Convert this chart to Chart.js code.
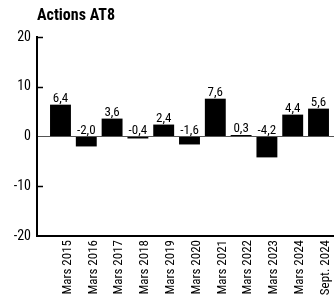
<!DOCTYPE html>
<html>
<head>
<meta charset="utf-8">
<script src="https://cdn.jsdelivr.net/npm/chart.js@4"></script>
<style>
  html, body { margin: 0; padding: 0; background: #fff; }
  #wrap { position: relative; width: 334px; height: 296px; }
  #title {
    position: absolute; left: 37px; top: 5px;
    font-family: Roboto, sans-serif;
    font-weight: bold;
    font-size: 16px;
    font-stretch: condensed;
    color: #000;
  }
</style>
</head>
<body>
<div id="wrap">
  <div id="title">Actions AT8</div>
  <canvas id="myChart" width="334" height="296"></canvas>
</div>
<script>
const categories = ['Mars 2015', 'Mars 2016', 'Mars 2017', 'Mars 2018', 'Mars 2019', 'Mars 2020',
  'Mars 2021', 'Mars 2022', 'Mars 2023', 'Mars 2024', 'Sept. 2024'];
const values = [6.4, -2.0, 3.6, -0.4, 2.4, -1.6, 7.6, 0.3, -4.2, 4.4, 5.6];
const yTicks = [-20, -10, 0, 10, 20];

// Roboto is variable here, "condensed" in the weight slot gives the narrow cut
const FONT = 'Roboto, sans-serif';

const fmt = v => v.toFixed(1).replace('.', ',');

// value labels above bars (negative ones sit above the zero line)
// + short inward tick marks on the y axis
const extras = {
  id: 'extras',
  afterDatasetsDraw(chart) {
    const ctx = chart.ctx;
    const yScale = chart.scales.y;
    const meta = chart.getDatasetMeta(0);
    ctx.save();
    ctx.font = 'condensed 13px ' + FONT;
    ctx.fillStyle = '#000';
    ctx.textAlign = 'center';
    ctx.textBaseline = 'alphabetic';
    meta.data.forEach((bar, i) => {
      const v = values[i];
      const top = yScale.getPixelForValue(Math.max(v, 0));
      ctx.fillText(fmt(v), bar.x, top - 3);
    });

    ctx.strokeStyle = '#000';
    ctx.lineWidth = 1.5;
    yTicks.forEach(t => {
      if (t === 0 || t === yScale.min) return;
      const y = Math.round(yScale.getPixelForValue(t)) + 0.5;
      ctx.beginPath();
      ctx.moveTo(chart.chartArea.left, y);
      ctx.lineTo(chart.chartArea.left + 6, y);
      ctx.stroke();
    });
    ctx.restore();
  }
};

const myChartElement = document.getElementById('myChart');
const myChart = new Chart(myChartElement, {
  type: 'bar',
  data: {
    datasets: [{
      data: values.map((v, i) => ({ x: i, y: v })),
      backgroundColor: '#000',
      borderWidth: 0,
      categoryPercentage: 1,
      barPercentage: 0.81
    }]
  },
  options: {
    responsive: false,
    animation: false,
    layout: { padding: { top: 37, left: 0, right: 0, bottom: 0 } },
    plugins: {
      legend: { display: false },
      title: { display: false },
      tooltip: { enabled: false }
    },
    scales: {
      x: {
        type: 'linear',
        offset: false,
        min: -0.91,
        max: 10.6,
        afterBuildTicks: scale => {
          scale.ticks = categories.map((c, i) => ({ value: i }));
        },
        afterFit: scale => {
          scale.height = 60;
          scale.paddingLeft = 0;
          scale.paddingRight = 0;
        },
        grid: { display: false, drawTicks: false },
        border: { display: true, color: '#000', width: 2 },
        ticks: {
          autoSkip: false,
          maxRotation: 90,
          minRotation: 90,
          padding: 4,
          labelOffset: 7,
          color: '#000',
          font: { family: FONT, size: 13, weight: 'condensed' },
          callback: v => categories[v]
        }
      },
      y: {
        min: -20,
        max: 20,
        afterBuildTicks: scale => {
          scale.ticks = yTicks.map(v => ({ value: v }));
        },
        afterFit: scale => { scale.width = 37; },
        grid: {
          drawOnChartArea: true,
          drawTicks: false,
          color: ctx => ctx.tick && ctx.tick.value === 0 ? '#555' : 'rgba(0,0,0,0)',
          lineWidth: 1
        },
        border: { display: true, color: '#000', width: 2 },
        ticks: {
          padding: 6,
          color: '#000',
          font: { family: FONT, size: 14, weight: 'condensed' },
          callback: v => String(v)
        }
      }
    }
  },
  plugins: [extras]
});
</script>
</body>
</html>
